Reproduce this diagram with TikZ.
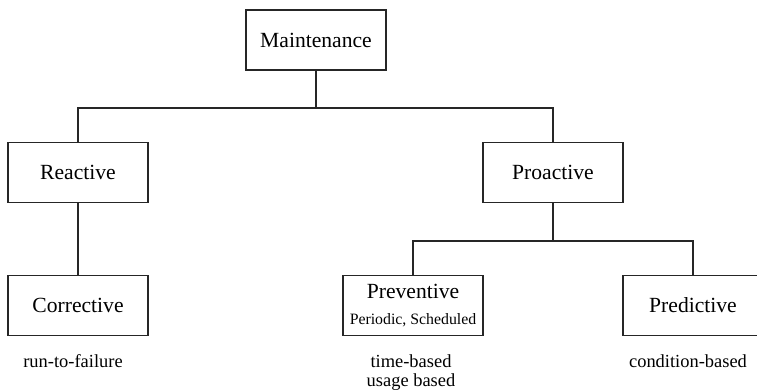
\documentclass[tikz,border=0pt]{standalone}
\usepackage{fontspec}
\setmainfont{Liberation Serif}

\begin{document}
\begin{tikzpicture}[%
        x = 0.02cm,
        y = -0.02cm,
        line cap = round,
        box/.style = {%
            draw = black!85,
            line width = 0.8pt,
            minimum width = 2.8cm,
            minimum height = 1.2cm,
            font = \fontsize{12.3}{14}\selectfont
        },
        note/.style = {%
            align = center,
            anchor = base,
            font = \fontsize{10.5}{10.8}\selectfont
        },
        wire/.style = {draw = black!85, line width = 0.8pt}
    ]

        % Fix the margins of the picture.
        \useasboundingbox (0, 0) rectangle (757, 391);

        % The boxes of the tree.
        \node[box] (M) at (316, 40) {Maintenance};
        \node[box] (R) at (78, 172.5) {Reactive};
        \node[box] (P) at (553, 172.5) {Proactive};
        \node[box] (C) at (78, 305.5) {Corrective};
        \node[box, align = center] (V) at (413, 305.5)
            {Preventive\\[1pt]{\fontsize{9}{10}\selectfont Periodic, Scheduled}};
        \node[box] (D) at (693, 305.5) {Predictive};

        % Branch points of the connectors.
        \coordinate (S1) at (316, 108);
        \coordinate (S2) at (553, 241);

        % Connect the boxes.
        \draw[wire] (M) -- (S1);
        \draw[wire] (R.north) |- (S1) -| (P.north);
        \draw[wire] (R) -- (C);
        \draw[wire] (P) -- (S2);
        \draw[wire] (V.north) |- (S2) -| (D.north);

        % Notes under the bottom boxes (base is the last line).
        \node[note] (NC) at (73, 367.5) {run-to-failure};
        \node[note] (NV) at (411, 386.5) {time-based\\usage based};
        \node[note] (ND) at (688, 367.5) {condition-based};
    \end{tikzpicture}
\end{document}
